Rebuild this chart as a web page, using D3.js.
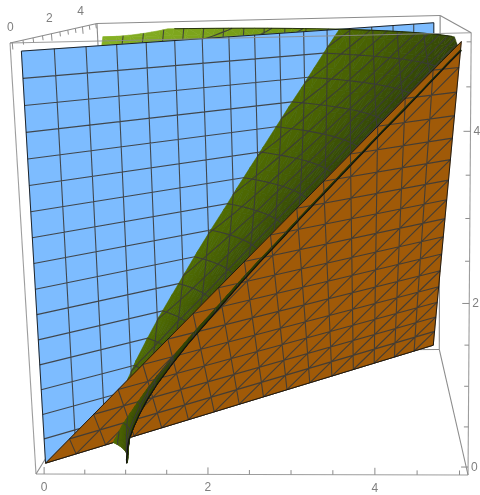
<!DOCTYPE html>
<html>
<head>
<meta charset="utf-8">
<style>
    html, body { margin: 0; padding: 0; background: #fff; }
    svg { display: block; filter: blur(0.5px); }
    text { font-family: "Liberation Sans", sans-serif; font-size: 12px; fill: #7f7f7f; }
</style>
<script src="https://d3js.org/d3.v7.min.js"></script>
</head>
<body>
<div id="chart"></div>
<script>
// axis ticks
var xLabels = [0, 2, 4];
var yLabels = [0, 2, 4];
var zLabels = [0, 2, 4];
var minorTicks = [0, 0.5, 1, 1.5, 2, 2.5, 3, 3.5, 4, 4.5, 5];
var meshLevels = [0.3125, 0.625, 0.9375, 1.25, 1.5625, 1.875, 2.1875, 2.5, 2.8125, 3.125, 3.4375, 3.75, 4.0625, 4.375, 4.6875];

// flat sheets, corners as x, y, z
var blueCorners = [[0, 0, 0], [5, 5, 0], [5, 5, 5], [0, 0, 5]];
var orangeCorners = [[0, 0, 0], [5, 5, 0], [5, 0, 5]];

// green sheet: waist radius read at each height, swept around the z axis
var greenHeights = [0, 0.05, 0.1, 0.2, 0.3, 0.45, 0.6, 0.8, 1, 1.25, 1.5, 1.75, 2, 2.25, 2.5, 2.75, 3, 3.25, 3.5, 3.75, 4, 4.25, 4.5, 4.75, 4.9, 5];
var greenRadii = [1, 1, 1.01, 1.02, 1.04, 1.1, 1.17, 1.28, 1.41, 1.6, 1.8, 2.02, 2.24, 2.46, 2.69, 2.93, 3.16, 3.4, 3.64, 3.88, 4.12, 4.37, 4.61, 4.85, 5, 5.1];
var greenAngles = [0, 0.5, 1, 1.5, 2, 3, 4, 5, 7.5, 10, 12.5, 15, 17.5, 20, 22.5, 25, 27.5, 30, 32.5, 35, 37.5, 40, 42.5, 45,
    47.5, 50, 52.5, 55, 57.5, 60, 62.5, 65, 67.5, 70, 72.5, 75, 77.5, 80, 82.5, 85, 87.5, 90];

var width = 480,
    height = 495;

var unit = d3.scaleLinear().domain([-0.1, 5.1]).range([0, 1]);

// perspective of the box, from where its corners land on the page
var camOrigin = [36, 474],
    camX = [420.8, -10.4],
    camY = [112.5, -10.7],
    camZ = [-26.6, -433.7],
    camW = [-0.024, 0.32, -0.063];

function depth(p) {
    return 1 + camW[0] * unit(p[0]) + camW[1] * unit(p[1]) + camW[2] * unit(p[2]);
}

function project(p) {
    var u = unit(p[0]), v = unit(p[1]), t = unit(p[2]), w = depth(p);
    return [
        (camOrigin[0] + u * camX[0] + v * camY[0] + t * camZ[0]) / w,
        (camOrigin[1] + u * camX[1] + v * camY[1] + t * camZ[1]) / w
    ];
}

function lerp3(a, b, s) {
    return [a[0] + (b[0] - a[0]) * s, a[1] + (b[1] - a[1]) * s, a[2] + (b[2] - a[2]) * s];
}

// keep the part of poly where f(p) <= 0
function clip(poly, f) {
    var out = [];
    poly.forEach(function (a, i) {
        var b = poly[(i + 1) % poly.length], fa = f(a), fb = f(b);
        if (fa <= 0) out.push(a);
        if ((fa < 0 && fb > 0) || (fa > 0 && fb < 0)) out.push(lerp3(a, b, fa / (fa - fb)));
    });
    return out;
}

function addMesh(path, poly, families) {
    families.forEach(function (k) {
        meshLevels.forEach(function (level) {
            var pts = [];
            poly.forEach(function (a, i) {
                var b = poly[(i + 1) % poly.length], da = a[k] - level, db = b[k] - level;
                if ((da < 0) !== (db < 0)) pts.push(project(lerp3(a, b, da / (da - db))));
            });
            if (pts.length === 2) {
                path.moveTo(pts[0][0], pts[0][1]);
                path.lineTo(pts[1][0], pts[1][1]);
            }
        });
    });
}

var line = d3.line();

var svg = d3.select("#chart").append("svg")
    .attr("width", width)
    .attr("height", height);

function polyPath(poly) {
    return line(poly.map(project)) + "Z";
}

function drawEdges(edges, opacity) {
    svg.append("g").selectAll("path")
        .data(edges)
        .join("path")
        .attr("d", function (d) { return line(d.map(project)); })
        .attr("fill", "none")
        .attr("stroke", "#8c8c8c")
        .attr("stroke-opacity", opacity)
        .attr("stroke-width", 1.1);
}

function drawLayer(polys, colorOf, families) {
    var g = svg.append("g");
    g.selectAll("path")
        .data(polys)
        .join("path")
        .attr("d", polyPath)
        .attr("fill", colorOf)
        .attr("stroke", colorOf)
        .attr("stroke-width", 0.6);
    var mesh = d3.path();
    polys.forEach(function (poly) { addMesh(mesh, poly, families); });
    g.append("path")
        .attr("d", mesh.toString())
        .attr("fill", "none")
        .attr("stroke", "#3a3a3a")
        .attr("stroke-opacity", 0.9)
        .attr("stroke-width", 1.1);
}

function drawOutline(poly) {
    svg.append("path")
        .attr("d", polyPath(poly))
        .attr("fill", "none")
        .attr("stroke", "#111")
        .attr("stroke-width", 0.9);
}

// box corners in data units
var lo = unit.domain()[0], hi = unit.domain()[1];

// back edges go under the sheets
drawEdges([
    [[lo, lo, lo], [lo, hi, lo]],
    [[lo, hi, lo], [hi, hi, lo]],
    [[hi, hi, lo], [hi, lo, lo]],
    [[lo, hi, lo], [lo, hi, hi]],
    [[hi, hi, lo], [hi, hi, hi]],
    [[lo, hi, hi], [hi, hi, hi]],
    [[lo, lo, hi], [lo, hi, hi]],
    [[hi, lo, hi], [hi, hi, hi]]
], 1);

// green sheet cut into triangles
var backTris = [], frontTris = [], sliverTris = [];

function greenPoint(row, col) {
    var a = greenAngles[col] * Math.PI / 180;
    return [greenRadii[row] * Math.cos(a), greenRadii[row] * Math.sin(a), greenHeights[row]];
}

function planeOffset(p) {
    return p[2] - p[0] + p[1];
}

d3.range(greenHeights.length - 1).forEach(function (i) {
    d3.range(greenAngles.length - 1).forEach(function (j) {
        var mid = (greenAngles[j] + greenAngles[j + 1]) / 2;
        [
            [greenPoint(i, j), greenPoint(i, j + 1), greenPoint(i + 1, j + 1)],
            [greenPoint(i, j), greenPoint(i + 1, j + 1), greenPoint(i + 1, j)]
        ].forEach(function (tri) {
            var poly = clip(tri, function (p) { return p[0] - 5; });
            poly = clip(poly, function (p) { return p[1] - 5; });
            if (poly.length < 3) return;
            poly.angle = mid;
            if (mid > 45) {
                backTris.push(poly);
                return;
            }
            var behind = clip(poly, function (p) { return -planeOffset(p); });
            var before = clip(poly, planeOffset);
            if (behind.length > 2) { behind.angle = mid; frontTris.push(behind); }
            if (before.length > 2) { before.angle = mid; sliverTris.push(before); }
        });
    });
});

var brightGreen = d3.scaleLinear().domain([45, 80]).range(["#6b8e0e", "#80a91f"]);
var darkGreen = d3.scaleLinear().domain([0, 45]).range(["#2b3a08", "#506c02"]);

function greenFill(d) {
    return d.angle > 45 ? brightGreen(d.angle) : darkGreen(d.angle);
}

// rim where the green sheet meets the top and the side of the box
var rimTop = greenAngles.map(function (a, j) { return greenPoint(greenHeights.length - 1, j); })
    .filter(function (p) { return p[0] <= 5 && p[1] <= 5; });
var rimEdge = greenHeights.map(function (h, i) { return greenPoint(i, 0); })
    .filter(function (p) { return p[0] <= 5; });

drawLayer(backTris, greenFill, [0, 1, 2]);

drawLayer([blueCorners], function () { return "#7dbcff"; }, [0, 2]);
drawOutline(blueCorners);

drawLayer(frontTris, greenFill, [0, 1, 2]);
svg.append("path")
    .attr("d", line(rimTop.map(project)))
    .attr("fill", "none")
    .attr("stroke", "#1c2408")
    .attr("stroke-width", 0.9);

drawLayer([orangeCorners], function () { return "#a05a08"; }, [0, 1, 2]);
drawOutline(orangeCorners);

drawLayer(sliverTris, greenFill, [0, 1, 2]);
svg.append("path")
    .attr("d", line(rimEdge.map(project)))
    .attr("fill", "none")
    .attr("stroke", "#111")
    .attr("stroke-width", 1.2);

// front edges sit over everything
drawEdges([
    [[lo, lo, lo], [hi, lo, lo]],
    [[lo, lo, lo], [lo, lo, hi]],
    [[hi, lo, lo], [hi, lo, hi]],
    [[lo, lo, hi], [hi, lo, hi]]
], 0.85);

// ticks
function tickLen(v, labels) {
    return labels.indexOf(v) >= 0 ? 7 : 4.5;
}

var tickSegs = [];
minorTicks.forEach(function (v) {
    var xa = project([v, lo, lo]), ya = project([lo, v, hi]), za = project([hi, lo, v]);
    tickSegs.push([xa, [xa[0], xa[1] - tickLen(v, xLabels)]]);
    tickSegs.push([ya, [ya[0] + 0.6, ya[1] + tickLen(v, yLabels)]]);
    tickSegs.push([za, [za[0] - tickLen(v, zLabels), za[1]]]);
});

svg.append("g").selectAll("path")
    .data(tickSegs)
    .join("path")
    .attr("d", line)
    .attr("fill", "none")
    .attr("stroke", "#8c8c8c")
    .attr("stroke-width", 1);

// tick labels
svg.append("g").selectAll("text")
    .data(xLabels)
    .join("text")
    .attr("text-anchor", "middle")
    .attr("x", function (d) { return project([d, lo, lo])[0]; })
    .attr("y", function (d) { return project([d, lo, lo])[1] + 17; })
    .text(function (d) { return d; });

svg.append("g").selectAll("text")
    .data(yLabels)
    .join("text")
    .attr("text-anchor", "middle")
    .attr("x", function (d) { return project([lo, d, hi])[0] - 2; })
    .attr("y", function (d) { return project([lo, d, hi])[1] - 12; })
    .text(function (d) { return d; });

svg.append("g").selectAll("text")
    .data(zLabels)
    .join("text")
    .attr("text-anchor", "start")
    .attr("x", function (d) { return project([hi, lo, d])[0] + 3; })
    .attr("y", function (d) { return project([hi, lo, d])[1] + 4; })
    .text(function (d) { return d; });
</script>
</body>
</html>
